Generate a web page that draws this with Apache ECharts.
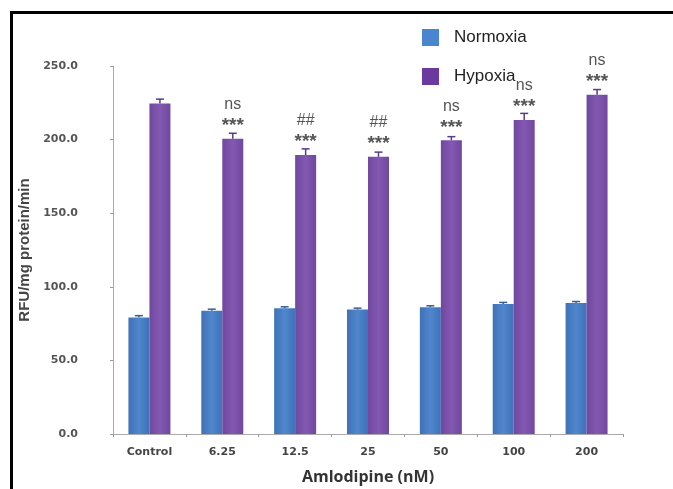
<!DOCTYPE html>
<html><head><meta charset="utf-8">
<script src="https://cdn.jsdelivr.net/npm/echarts@6/dist/echarts.min.js"></script>
<style>html,body{margin:0;padding:0;background:#fff}#c{width:673px;height:489px}</style>
</head><body><div id="c"></div>
<script>
const categories = ['Control','6.25','12.5','25','50','100','200'];
const normoxia = [79.2, 83.8, 85.4, 84.5, 86.1, 88.4, 89.0];
const normoxiaErr = [1.2, 1.0, 1.0, 1.0, 1.0, 1.0, 1.0];
const hypoxia = [224.5, 200.5, 189.5, 188.3, 199.5, 213.3, 230.5];
const hypoxiaErr = [3.0, 3.8, 4.2, 3.2, 2.5, 4.5, 3.5];
const stars = ['', '***', '***', '***', '***', '***', '***'];
const marks = ['', 'ns', '##', '##', 'ns', 'ns', 'ns'];
const yTicks = [0, 50, 100, 150, 200, 250];

const chart = echarts.init(document.getElementById('c'));
const BW = 21;
function errSeries(vals, errs, offset, color, withText) {
  return {
    type: 'custom',
    z: 5,
    data: vals.map((v, i) => [i, v, errs[i]]),
    renderItem: function (params, api) {
      const i = api.value(0), v = api.value(1), e = api.value(2);
      const p0 = api.coord([i, v]);
      const p1 = api.coord([i, v + e]);
      const x = p0[0] + offset;
      const children = [
        {type: 'line', shape: {x1: x, y1: p0[1], x2: x, y2: p1[1]}, style: {stroke: color, lineWidth: 1.5}},
        {type: 'line', shape: {x1: x - 4, y1: p1[1], x2: x + 4, y2: p1[1]}, style: {stroke: color, lineWidth: 1.5}}
      ];
      if (withText) {
        children.push({type: 'text', style: {text: stars[i], x: x, y: p0[1] - 13, align: 'center', verticalAlign: 'middle', fill: '#555', font: 'bold 19px "Liberation Sans", sans-serif'}});
        children.push({type: 'text', style: {text: marks[i], x: x, y: p0[1] - 34, align: 'center', verticalAlign: 'middle', fill: '#555', font: '16px "Liberation Sans", sans-serif'}});
      }
      return {type: 'group', children: children};
    }
  };
}
const blueGrad = new echarts.graphic.LinearGradient(0,0,1,0,[{offset:0,color:'#3f72b8'},{offset:0.5,color:'#4f86cc'},{offset:1,color:'#3f72b8'}]);
const purpGrad = new echarts.graphic.LinearGradient(0,0,1,0,[{offset:0,color:'#7048a0'},{offset:0.5,color:'#8358b0'},{offset:1,color:'#7048a0'}]);
chart.setOption({
  animation: false,
  grid: {left: 113, right: 50, top: 66, bottom: 55, containLabel: false, outerBoundsMode: 'none'},
  legend: {
    orient: 'vertical', left: 417, top: 24, itemWidth: 17, itemHeight: 17, itemGap: 22,
    icon: 'rect',
    textStyle: {fontSize: 17, color: '#222', fontFamily: '"Liberation Sans Narrow", "Liberation Sans", sans-serif', padding: [0,0,0,10]},
    data: [{name: 'Normoxia', itemStyle: {color: '#4a86d0'}}, {name: 'Hypoxia', itemStyle: {color: '#6a3a9e'}}]
  },
  xAxis: {
    type: 'category', data: categories,
    name: 'Amlodipine (nM)', nameLocation: 'middle', nameGap: 35,
    nameTextStyle: {fontSize: 16, fontWeight: 'bold', color: '#333', fontFamily: '"Open Sans", sans-serif'},
    axisLine: {lineStyle: {color: '#aaa'}},
    axisTick: {show: true, length: 3, lineStyle: {color: '#999'}},
    axisLabel: {fontSize: 11, fontWeight: 'bold', color: '#444', margin: 13, fontFamily: '"DejaVu Sans", sans-serif'}
  },
  yAxis: {
    type: 'value', min: 0, max: 250, interval: 50,
    name: 'RFU/mg protein/min', nameLocation: 'middle', nameGap: 80, nameRotate: 90,
    nameTextStyle: {fontSize: 15, fontWeight: 'bold', color: '#444', fontFamily: '"Liberation Sans Narrow", "Liberation Sans", sans-serif'},
    axisLine: {show: true, lineStyle: {color: '#aaa'}},
    axisTick: {show: true, length: 3, lineStyle: {color: '#999'}},
    splitLine: {show: false},
    axisLabel: {fontSize: 11, fontWeight: 'bold', color: '#555', margin: 35, formatter: v => yTicks.includes(v) ? v.toFixed(1) : '', fontFamily: '"DejaVu Sans", sans-serif'}
  },
  graphic: [
    {type: 'rect', shape: {x: 10, y: 11, width: 663, height: 3}, style: {fill: '#000'}},
    {type: 'rect', shape: {x: 10, y: 11, width: 3, height: 478}, style: {fill: '#000'}}
  ],
  series: [
    {name: 'Normoxia', type: 'bar', data: normoxia, barWidth: BW, barGap: '0%', itemStyle: {color: blueGrad}},
    {name: 'Hypoxia', type: 'bar', data: hypoxia, barWidth: BW, barGap: '0%', itemStyle: {color: purpGrad}},
    errSeries(normoxia, normoxiaErr, -BW/2, '#3a5e94', false),
    errSeries(hypoxia, hypoxiaErr, BW/2, '#5a3a8a', true)
  ]
});
</script></body></html>
